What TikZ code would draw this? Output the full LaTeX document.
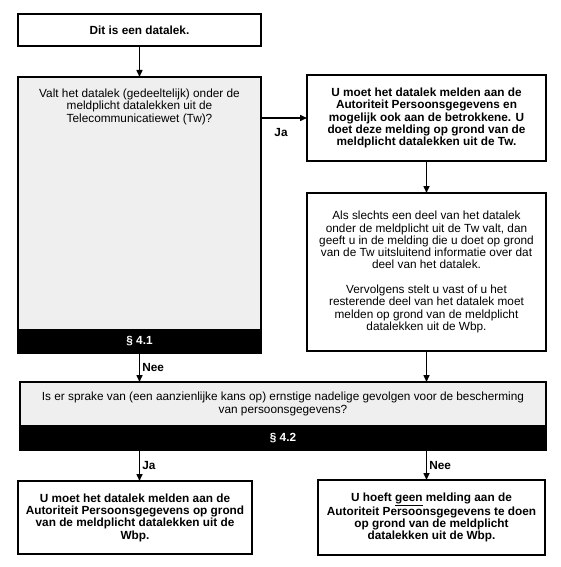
\documentclass[tikz,border=0pt]{standalone}
\usepackage{fontspec}
\setmainfont{Liberation Sans}
\usepackage{tikz}
\usetikzlibrary{positioning,arrows.meta}
\definecolor{lichtgrijs}{HTML}{EFEFEF}
\newcommand{\tekst}{\fontsize{11.8}{12.3}\selectfont}

\begin{document}
\begin{tikzpicture}[x=1pt, y=-1pt, >={Triangle[length=7pt, width=6pt]}]
	\tikzstyle{box} = [draw, line width=1.6pt, align=center, inner sep=3pt, outer sep=0pt, font=\tekst]
	\tikzstyle{vet} = [box, font=\tekst\bfseries]
	\tikzstyle{vraag} = [box, fill=lichtgrijs]
	\tikzstyle{band} = [draw, line width=1.6pt, outer sep=0pt, fill=black, text=white, font=\tekst\bfseries]
	\tikzstyle{pijl} = [->, line width=1.5pt]
	\tikzstyle{antw} = [font=\tekst\bfseries, inner sep=2pt]

	\useasboundingbox (0,0) rectangle (561,567);

	\node[vet, minimum width=243pt, minimum height=32pt] (dit) at (139.5,30) {Dit is een datalek.};
	\node[vraag, minimum width=243pt, minimum height=253pt, below=31pt of dit,
		label={[font=\tekst, align=center, anchor=north, yshift=-8.5pt]north:Valt het datalek (gedeeltelijk) onder de\\meldplicht datalekken uit de\\Telecommunicatiewet (Tw)?}] (q1) {};
	\node[band, minimum width=243pt, minimum height=23pt, below=0pt of q1] (b1) {§ 4.1};
	\node[vet, minimum width=239pt, minimum height=86pt, right=46pt of q1.north east, anchor=north west, yshift=2pt] (r1)
		{U moet het datalek melden aan de\\Autoriteit Persoonsgegevens en\\mogelijk ook aan de betrokkene. U\\doet deze melding op grond van de\\meldplicht datalekken uit de Tw.};
	\node[box, minimum width=239pt, minimum height=158pt, below=32pt of r1] (r2)
		{Als slechts een deel van het datalek\\onder de meldplicht uit de Tw valt, dan\\geeft u in de melding die u doet op grond\\van de Tw uitsluitend informatie over dat\\deel van het datalek.\\[12.3pt]Vervolgens stelt u vast of u het\\resterende deel van het datalek moet\\melden op grond van de meldplicht\\datalekken uit de Wbp.};
	\node[vraag, minimum width=526pt, minimum height=44pt, below=29pt of b1.south west, anchor=north west, xshift=2pt] (q2)
		{Is er sprake van (een aanzienlijke kans op) ernstige nadelige gevolgen voor de bescherming\\van persoonsgegevens?};
	\node[band, minimum width=526pt, minimum height=24pt, below=0pt of q2] (b2) {§ 4.2};
	\node[vet, minimum width=234pt, minimum height=73pt, below=31pt of b2.south west, anchor=north west, xshift=-2pt] (y1)
		{U moet het datalek melden aan de\\Autoriteit Persoonsgegevens op grond\\van de meldplicht datalekken uit de\\Wbp.};
	\node[vet, minimum width=227pt, minimum height=75pt, below=30pt of b2.south east, anchor=north east, xshift=-1pt] (n1)
		{U hoeft \underline{geen} melding aan de\\Autoriteit Persoonsgegevens te doen\\op grond van de meldplicht\\datalekken uit de Wbp.};

	\path[pijl]
		(dit) edge (q1)
		(q1.east |- r1.west) edge node[antw, below=8pt, xshift=-3pt] {Ja} (r1.west)
		(r1) edge (r2)
		(b1) edge node[antw, right] {Nee} (b1.south |- q2.north)
		(r2) edge (r2.south |- q2.north)
		(b1.south |- b2.south) edge node[antw, right] {Ja} (b1.south |- y1.north)
		(r2.south |- b2.south) edge node[antw, right] {Nee} (r2.south |- n1.north);
\end{tikzpicture}
\end{document}
